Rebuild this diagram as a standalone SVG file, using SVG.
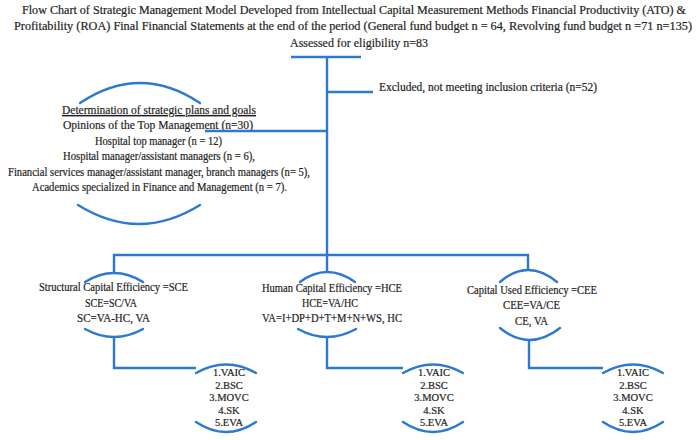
<svg xmlns="http://www.w3.org/2000/svg" width="700" height="440" viewBox="0 0 700 440">
  <style>
    text { font-family: "Liberation Serif", "Times New Roman", serif; fill: #1e1e1e; stroke: #1e1e1e; stroke-width: 0.2; }
    .title { font-size: 12px; }
    .sub { font-size: 13px; }
    .t12 { font-size: 12.5px; }
    .t11 { font-size: 11.5px; }
    .t10 { font-size: 10.5px; }
    .mid { text-anchor: middle; }
    .ln { fill: none; stroke: #2c79cf; stroke-width: 2.4; stroke-linecap: butt; stroke-linejoin: miter; }
    .arc { fill: none; stroke: #2c79cf; stroke-width: 2.4; stroke-linecap: round; }
  </style>
  <rect width="700" height="440" fill="#fff"/>

  <!-- heading -->
  <g id="title">
    <text class="title" x="22" y="14" textLength="664" lengthAdjust="spacingAndGlyphs">Flow Chart of Strategic Management Model Developed from Intellectual Capital Measurement Methods Financial Productivity (ATO) &amp;</text>
    <text class="title" x="14" y="30" textLength="678" lengthAdjust="spacingAndGlyphs">Profitability (ROA) Final Financial Statements at the end of the period (General fund budget n = 64, Revolving fund budget n =71 n=135)</text>
  </g>

  <g id="eligibility">
    <text class="sub" x="290" y="47" textLength="138" lengthAdjust="spacingAndGlyphs">Assessed for eligibility n=83</text>
  </g>

  <g id="excluded">
    <text class="t11" x="379" y="91" textLength="218" lengthAdjust="spacingAndGlyphs">Excluded, not meeting inclusion criteria (n=52)</text>
  </g>

  <!-- strategic plans node -->
  <g id="strategic">
    <path class="arc" d="M80,103 Q140,63 200,103"/>
    <text class="t12" x="62" y="114" textLength="194" lengthAdjust="spacingAndGlyphs" text-decoration="underline">Determination of strategic plans and goals</text>
    <text class="t12" x="63" y="129" textLength="190" lengthAdjust="spacingAndGlyphs">Opinions of the Top Management (n=30)</text>
    <text class="t11" x="95" y="145" textLength="127" lengthAdjust="spacingAndGlyphs">Hospital top manager (n = 12)</text>
    <text class="t11" x="63" y="160" textLength="192" lengthAdjust="spacingAndGlyphs">Hospital manager/assistant managers (n = 6),</text>
    <text class="t11" x="8" y="176" textLength="302" lengthAdjust="spacingAndGlyphs">Financial services manager/assistant manager, branch managers (n= 5),</text>
    <text class="t11" x="32" y="191" textLength="255" lengthAdjust="spacingAndGlyphs">Academics specialized in Finance and Management (n = 7).</text>
    <path class="arc" d="M78,205 Q139,243 200,205"/>
  </g>

  <!-- efficiency nodes -->
  <g id="sce">
    <path class="arc" d="M85,282 Q114,264 143,282"/>
    <text class="t11" x="39" y="291" textLength="149" lengthAdjust="spacingAndGlyphs">Structural Capital Efficiency =SCE</text>
    <text class="t11" x="85" y="307" textLength="52" lengthAdjust="spacingAndGlyphs">SCE=SC/VA</text>
    <text class="t11" x="77" y="322" textLength="73" lengthAdjust="spacingAndGlyphs">SC=VA-HC, VA</text>
    <path class="arc" d="M85,329 Q114,345 143,329"/>
  </g>

  <g id="hce">
    <path class="arc" d="M300,282 Q327,262 355,282"/>
    <text class="t11" x="262" y="292" textLength="140" lengthAdjust="spacingAndGlyphs">Human Capital Efficiency =HCE</text>
    <text class="t11" x="302" y="307" textLength="56" lengthAdjust="spacingAndGlyphs">HCE=VA/HC</text>
    <text class="t11" x="262" y="322" textLength="140" lengthAdjust="spacingAndGlyphs">VA=I+DP+D+T+M+N+WS, HC</text>
    <path class="arc" d="M298,329 Q327,345 356,329"/>
  </g>

  <g id="cee">
    <path class="arc" d="M500,282 Q528,258 557,282"/>
    <text class="t11" x="467" y="294" textLength="130" lengthAdjust="spacingAndGlyphs">Capital Used Efficiency =CEE</text>
    <text class="t11" x="503" y="309" textLength="57" lengthAdjust="spacingAndGlyphs">CEE=VA/CE</text>
    <text class="t11" x="515" y="325" textLength="33" lengthAdjust="spacingAndGlyphs">CE, VA</text>
    <path class="arc" d="M500,328 Q529,352 560,328"/>
  </g>

  <!-- method lists -->
  <g id="methods-sce">
    <path class="arc" d="M196,373 Q226,356 256,373"/>
    <text class="t10 mid" x="229" y="376">1.VAIC</text>
    <text class="t10 mid" x="229" y="388.5">2.BSC</text>
    <text class="t10 mid" x="229" y="401">3.MOVC</text>
    <text class="t10 mid" x="229" y="413.5">4.SK</text>
    <text class="t10 mid" x="229" y="426">5.EVA</text>
    <path class="arc" d="M196,422 Q226,442 256,422"/>
  </g>

  <g id="methods-hce">
    <path class="arc" d="M403,373 Q433,356 463,373"/>
    <text class="t10 mid" x="434" y="376">1.VAIC</text>
    <text class="t10 mid" x="434" y="388.5">2.BSC</text>
    <text class="t10 mid" x="434" y="401">3.MOVC</text>
    <text class="t10 mid" x="434" y="413.5">4.SK</text>
    <text class="t10 mid" x="434" y="426">5.EVA</text>
    <path class="arc" d="M403,422 Q433,442 463,422"/>
  </g>

  <g id="methods-cee">
    <path class="arc" d="M603,373 Q633,356 663,373"/>
    <text class="t10 mid" x="633" y="376">1.VAIC</text>
    <text class="t10 mid" x="633" y="388.5">2.BSC</text>
    <text class="t10 mid" x="633" y="401">3.MOVC</text>
    <text class="t10 mid" x="633" y="413.5">4.SK</text>
    <text class="t10 mid" x="633" y="426">5.EVA</text>
    <path class="arc" d="M603,422 Q633,442 663,422"/>
  </g>

  <!-- connectors -->
  <g id="connectors">
    <path class="ln" d="M291,57 H361"/>
    <path class="ln" d="M327,57 V255"/>
    <path class="ln" d="M327,92 H373"/>
    <path class="ln" d="M205,131 H327"/>
    <path class="ln" d="M114,273 V255 H528 V270"/>
    <path class="ln" d="M327,255 V272"/>
    <path class="ln" d="M114,337 V368 H196"/>
    <path class="ln" d="M327,337 V368 H403"/>
    <path class="ln" d="M529,340 V368 H603"/>
  </g>
</svg>
